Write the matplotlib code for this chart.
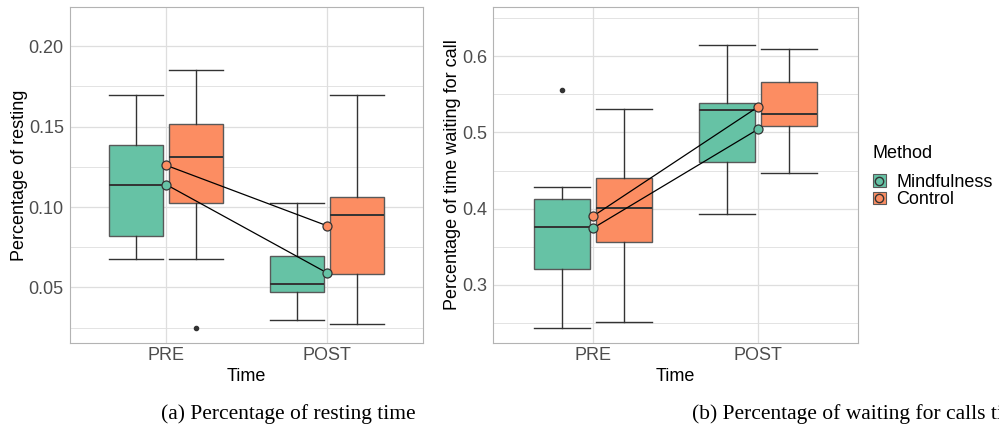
import numpy as np
import matplotlib.pyplot as plt
from matplotlib.patches import Patch
from matplotlib.lines import Line2D
from matplotlib.ticker import MultipleLocator

plt.rcParams['font.family'] = ['Liberation Sans', 'DejaVu Sans']

times = ["PRE", "POST"]
methods = ["Mindfulness", "Control"]
colors = ["#66C2A5", "#FC8D62"]

# each box: [lower whisker, Q1, median, Q3, upper whisker], one per time
rest_mind = [[0.0676, 0.0817, 0.1139, 0.1386, 0.1699], [0.0299, 0.0473, 0.0523, 0.0697, 0.1023]]
rest_ctrl = [[0.0676, 0.1025, 0.1313, 0.1517, 0.1851], [0.0274, 0.0585, 0.0948, 0.1060, 0.1699]]
rest_mind_out = [[], []]
rest_ctrl_out = [[0.0247], []]
rest_mind_mean = [0.1139, 0.0591]
rest_ctrl_mean = [0.1259, 0.0884]

wait_mind = [[0.2430, 0.3201, 0.3753, 0.4130, 0.4287], [0.3928, 0.4607, 0.5295, 0.5391, 0.6153]]
wait_ctrl = [[0.2509, 0.3560, 0.4003, 0.4397, 0.5304], [0.4471, 0.5085, 0.5247, 0.5658, 0.6096]]
wait_mind_out = [[0.5553], []]
wait_ctrl_out = [[], []]
wait_mind_mean = [0.3740, 0.5045]
wait_ctrl_mean = [0.3897, 0.5339]

grid_col = "#DEDEDE"
edge_col = "#595959"
dark = "#333333"


def stats(boxes, outs):
    res = []
    for b, o in zip(boxes, outs):
        res.append(dict(whislo=b[0], q1=b[1], med=b[2], q3=b[3], whishi=b[4], fliers=o))
    return res


def panel(ax, groups, means, ylim, major, minor, ylabel):
    x = np.arange(1, len(times) + 1)
    offs = [-0.1875, 0.1875]
    for (boxes, outs), off, col in zip(groups, offs, colors):
        ax.bxp(stats(boxes, outs), positions=x + off, widths=0.3375, capwidths=0.3375,
               patch_artist=True, manage_ticks=False,
               boxprops=dict(facecolor=col, edgecolor=edge_col, linewidth=1.0),
               medianprops=dict(color=dark, linewidth=1.4),
               whiskerprops=dict(color=dark, linewidth=1.0),
               capprops=dict(color=dark, linewidth=1.0),
               flierprops=dict(marker='o', markersize=3, markerfacecolor=dark,
                               markeredgecolor=dark))
    for m, col in zip(means, colors):
        ax.plot(x, m, color="black", linewidth=0.9, zorder=4)
        ax.plot(x, m, 'o', markersize=6.5, markerfacecolor=col, markeredgecolor=dark,
                markeredgewidth=0.9, zorder=5)
    ax.set_xlim(0.4, 2.6)
    ax.set_ylim(*ylim)
    ax.set_xticks(x)
    ax.set_xticklabels(times)
    ax.yaxis.set_major_locator(MultipleLocator(major))
    ax.yaxis.set_minor_locator(MultipleLocator(minor))
    ax.grid(True, which='major', color=grid_col, linewidth=0.9)
    ax.grid(True, which='minor', axis='y', color=grid_col, linewidth=0.6)
    ax.set_axisbelow(True)
    ax.tick_params(which='both', length=0, labelsize=13, labelcolor="#4D4D4D")
    ax.tick_params(axis='y', pad=4.5)
    ax.tick_params(axis='x', pad=3)
    for s in ax.spines.values():
        s.set_color("#B3B3B3")
        s.set_linewidth(0.8)
    ax.set_xlabel("Time", fontsize=13, labelpad=3)
    ax.set_ylabel(ylabel, fontsize=13, labelpad=0.5)


fig = plt.figure(figsize=(9.99, 4.30), dpi=100)
ax1 = fig.add_axes([0.0701, 0.2023, 0.3534, 0.7814])
ax2 = fig.add_axes([0.4938, 0.2030, 0.3648, 0.7814])

panel(ax1, [(rest_mind, rest_mind_out), (rest_ctrl, rest_ctrl_out)],
      [rest_mind_mean, rest_ctrl_mean], (0.0154, 0.2244), 0.05, 0.025,
      "Percentage of resting")
ax1.yaxis.set_major_formatter(plt.FormatStrFormatter('%.2f'))
panel(ax2, [(wait_mind, wait_mind_out), (wait_ctrl, wait_ctrl_out)],
      [wait_mind_mean, wait_ctrl_mean], (0.2237, 0.6653), 0.1, 0.05,
      "Percentage of time waiting for call")
ax2.yaxis.set_major_formatter(plt.FormatStrFormatter('%.1f'))

handles = []
for col in colors:
    handles.append((Patch(facecolor=col, edgecolor=edge_col, linewidth=0.8),
                    Line2D([], [], marker='o', linestyle='', markersize=6,
                           markerfacecolor=col, markeredgecolor=dark)))
fig.text(873 / 999, 1 - 153 / 430, "Method", fontsize=13, va='center', ha='left')
fig.legend(handles, methods, loc='upper left',
           bbox_to_anchor=(873 / 999, 1 - 174 / 430), frameon=False, fontsize=13,
           handlelength=0.7, handleheight=0.7,
           handletextpad=0.6, labelspacing=0.02, borderpad=0, borderaxespad=0)

fig.text(161 / 999, 1 - 419 / 430, "(a) Percentage of resting time",
         family="Liberation Serif", fontsize=15.5, va='baseline', ha='left')
fig.text(692 / 999, 1 - 419 / 430, "(b) Percentage of waiting for calls time",
         family="Liberation Serif", fontsize=15.5, va='baseline', ha='left')

fig.savefig("out.png", dpi=100)
